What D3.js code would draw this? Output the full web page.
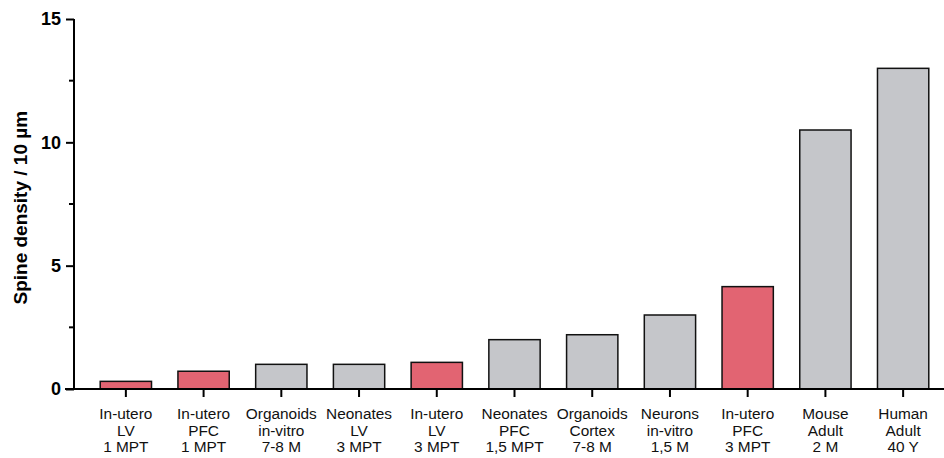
<!DOCTYPE html>
<html>
<head>
<meta charset="utf-8">
<script src="https://cdn.jsdelivr.net/npm/d3@7"></script>
<style>
  body { margin: 0; background: #fff; }
  svg text { font-family: "Liberation Sans", Arial, sans-serif; }
</style>
</head>
<body>
<div id="root"></div>
<script>
const width = 944;
const height = 458;

// categories, each label split in three lines
const labels = [
    ['In-utero', 'LV', '1 MPT'],
    ['In-utero', 'PFC', '1 MPT'],
    ['Organoids', 'in-vitro', '7-8 M'],
    ['Neonates', 'LV', '3 MPT'],
    ['In-utero', 'LV', '3 MPT'],
    ['Neonates', 'PFC', '1,5 MPT'],
    ['Organoids', 'Cortex', '7-8 M'],
    ['Neurons', 'in-vitro', '1,5 M'],
    ['In-utero', 'PFC', '3 MPT'],
    ['Mouse', 'Adult', '2 M'],
    ['Human', 'Adult', '40 Y']
];
const values = [0.31, 0.72, 1.0, 1.0, 1.08, 2.0, 2.2, 3.0, 4.15, 10.5, 13.0];
const highlighted = [true, true, false, false, true, false, false, false, true, false, false];
const yTicks = [0, 5, 10, 15];
const yMinorTicks = [2.5, 7.5, 12.5];

const RED = '#e26472';
const GREY = '#c5c6ca';

const ids = labels.map((d, i) => i);

const x = d3.scaleBand()
    .domain(ids)
    .range([87, 942])
    .paddingInner(0.34)
    .paddingOuter(0.17);

const y = d3.scaleLinear()
    .domain([0, 15])
    .range([389, 19]);

const svg = d3.select('#root')
    .append('svg')
    .attr('width', width)
    .attr('height', height);

// bars
svg.append('g')
    .selectAll('rect')
    .data(ids)
    .join('rect')
    .attr('x', i => x(i))
    .attr('y', i => y(values[i]))
    .attr('width', x.bandwidth())
    .attr('height', i => y(0) - y(values[i]))
    .attr('fill', i => highlighted[i] ? RED : GREY)
    .attr('stroke', '#111')
    .attr('stroke-width', 1.5);

// y axis
const yAxis = svg.append('g')
    .attr('transform', 'translate(74,0)')
    .call(d3.axisLeft(y).tickValues(yTicks).tickSize(8).tickPadding(5).tickFormat(d3.format('d')));
yAxis.select('.domain').attr('stroke-width', 2).attr('d', `M0,${y(15)}V${y(0)}`);
yAxis.selectAll('.tick line').attr('stroke-width', 2);
yAxis.selectAll('.tick text')
    .attr('font-size', 18)
    .attr('font-weight', 'bold')
    .attr('fill', '#000')
    .style('font-family', '"Liberation Sans", Arial, sans-serif');

svg.append('g')
    .selectAll('line')
    .data(yMinorTicks)
    .join('line')
    .attr('x1', 69)
    .attr('x2', 74)
    .attr('y1', d => y(d))
    .attr('y2', d => y(d))
    .attr('stroke', '#000')
    .attr('stroke-width', 2);

// x axis
const xAxis = svg.append('g')
    .attr('transform', `translate(0,${y(0)})`)
    .call(d3.axisBottom(x).tickSize(8).tickFormat(''));
xAxis.select('.domain').attr('stroke-width', 2).attr('d', 'M65,0H944');
xAxis.selectAll('.tick line').attr('stroke-width', 2);

const xLabels = svg.append('g')
    .selectAll('text')
    .data(ids)
    .join('text')
    .attr('text-anchor', 'middle')
    .attr('font-size', 15.4)
    .attr('fill', '#111');
xLabels.selectAll('tspan')
    .data(i => labels[i].map(t => ({t, cx: x(i) + x.bandwidth() / 2})))
    .join('tspan')
    .attr('x', d => d.cx)
    .attr('y', (d, j) => 419 + j * 16.5)
    .text(d => d.t);

// y title
svg.append('text')
    .attr('transform', `translate(27,${y(7.35)}) rotate(-90)`)
    .attr('text-anchor', 'middle')
    .attr('font-size', 19)
    .attr('font-weight', 'bold')
    .text('Spine density / 10 µm');
</script>
</body>
</html>
